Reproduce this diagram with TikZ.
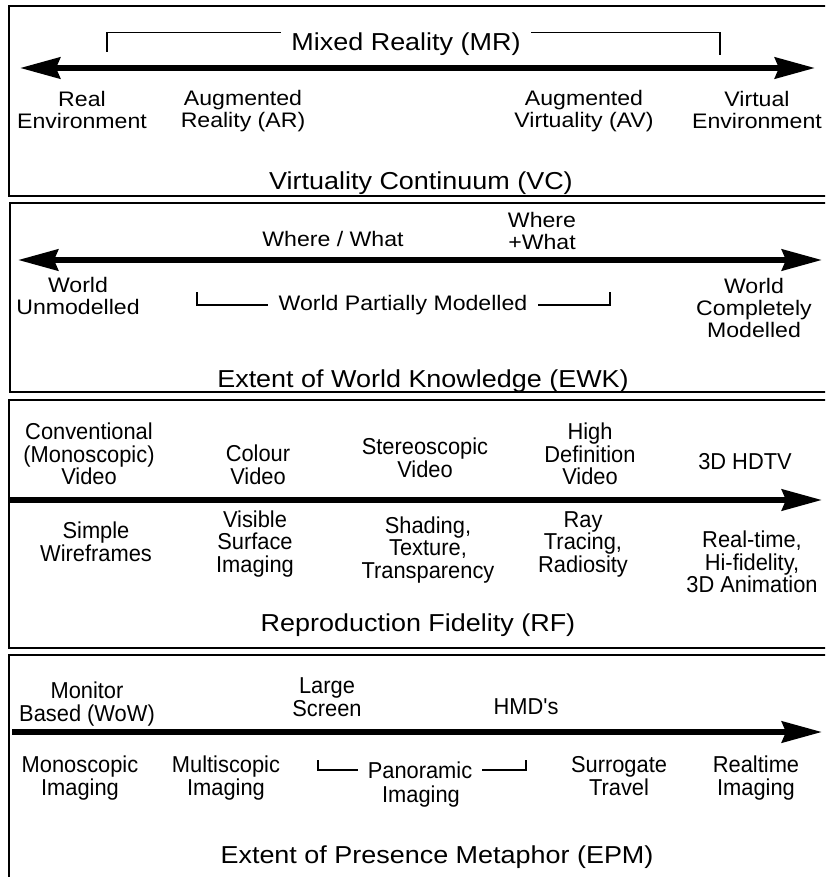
\documentclass[tikz,border=0pt]{standalone}
\usepackage{fontspec}
\setmainfont{Liberation Sans}[FakeStretch=1.1]
\newfontfamily\narrowfont{Liberation Sans}[FakeStretch=0.95]
\usetikzlibrary{arrows.meta}

\begin{document}
\begin{tikzpicture}[x=1pt, y=-1pt,
	>={Stealth[length=40pt,width=21pt,inset=4pt]},
	lbl/.style = {align=center, inner sep=0pt, font=\fontsize{21}{22}\selectfont},
	nlbl/.style = {align=center, inner sep=0pt, font=\narrowfont\fontsize{23}{22.5}\selectfont},
	ttl/.style = {inner sep=0pt, font=\fontsize{24.5}{26}\selectfont},
	axis/.style = {line width=6pt},
	panel/.style = {line width=1.4pt},
	bracket/.style = {line width=1.4pt}]
	\useasboundingbox (0,0) rectangle (825,877);
	\clip (0,0) rectangle (825,877);

	\draw [panel] (9,6) rectangle (830,196);
	\node [ttl, inner xsep=10pt] (mr) at (406,44) {Mixed Reality (MR)};
	\coordinate (mrL) at (107,52);
	\coordinate (mrR) at (720,55);
	\draw [bracket] (mrL) |- (mr.north west);
	\draw [bracket] (mrR) |- (mr.north east);
	\coordinate (vcL) at (20,68);
	\coordinate (vcR) at (815,68);
	\draw [axis, <->] (vcL) -- (vcR);
	\node [lbl] (re) at (82,110) {Real\\Environment};
	\node [lbl] (ar) at (243,111) {Augmented\\Reality (AR)};
	\node [lbl] (av) at (584,111) {Augmented\\Virtuality (AV)};
	\node [lbl] (ve) at (757,110) {Virtual\\Environment};
	\node [ttl] (vc) at (421,183) {Virtuality Continuum (VC)};

	\draw [panel] (10,203) rectangle (830,392);
	\node [lbl] (ww) at (333,239) {Where / What};
	\node [lbl] (wpw) at (542,231) {Where\\+What};
	\coordinate (ewkL) at (18,260);
	\coordinate (ewkR) at (822,260);
	\draw [axis, <->] (ewkL) -- (ewkR);
	\node [lbl] (wu) at (78,296) {World\\Unmodelled};
	\node [lbl, inner xsep=10pt] (wpm) at (403,305) {World Partially Modelled};
	\coordinate (wpmL) at (197,292);
	\coordinate (wpmR) at (610,292);
	\draw [bracket] (wpmL) |- (wpm.west);
	\draw [bracket] (wpmR) |- (wpm.east);
	\node [lbl] (wcm) at (754,308) {World\\Completely\\Modelled};
	\node [ttl] (ewk) at (423,381) {Extent of World Knowledge (EWK)};

	\draw [panel] (9,400) rectangle (830,648);
	\node [nlbl] (cmv) at (89,454) {Conventional\\(Monoscopic)\\Video};
	\node [nlbl] (cv) at (258,465) {Colour\\Video};
	\node [nlbl] (sv) at (425,458) {Stereoscopic\\Video};
	\node [nlbl] (hdv) at (590,454) {High\\Definition\\Video};
	\node [nlbl] (hdtv) at (745,462) {3D HDTV};
	\coordinate (rfL) at (9,500);
	\coordinate (rfR) at (822,500);
	\draw [axis, ->] (rfL) -- (rfR);
	\node [nlbl] (sw) at (96,542) {Simple\\Wireframes};
	\node [nlbl] (vsi) at (255,544) {Visible\\Surface\\Imaging};
	\node [nlbl] (stt) at (428,550) {Shading,\\Texture,\\Transparency};
	\node [nlbl] (rtr) at (583,544) {Ray\\Tracing,\\Radiosity};
	\node [nlbl] (rha) at (752,562) {Real-time,\\Hi-fidelity,\\3D Animation};
	\node [ttl] (rf) at (418,625) {Reproduction Fidelity (RF)};

	\draw [panel] (9,655) rectangle (830,890);
	\node [nlbl] (mb) at (87,704) {Monitor\\Based (WoW)};
	\node [nlbl] (ls) at (327,697) {Large\\Screen};
	\node [nlbl] (hmd) at (526,707) {HMD's};
	\coordinate (epmL) at (12,732);
	\coordinate (epmR) at (822,732);
	\draw [axis, ->] (epmL) -- (epmR);
	\node [nlbl] (mi) at (80,778) {Monoscopic\\Imaging};
	\node [nlbl] (mui) at (226,778) {Multiscopic\\Imaging};
	\node [nlbl, inner xsep=10pt] (pano) at (420,770) {Panoramic};
	\node [nlbl] (panoi) at (421,797) {Imaging};
	\coordinate (panoL) at (318,760);
	\coordinate (panoR) at (526,760);
	\draw [bracket] (panoL) |- (pano.west);
	\draw [bracket] (panoR) |- (pano.east);
	\node [nlbl] (st) at (619,776) {Surrogate\\Travel};
	\node [nlbl] (ri) at (756,778) {Realtime\\Imaging};
	\node [ttl] (epm) at (437,857) {Extent of Presence Metaphor (EPM)};
\end{tikzpicture}
\end{document}
